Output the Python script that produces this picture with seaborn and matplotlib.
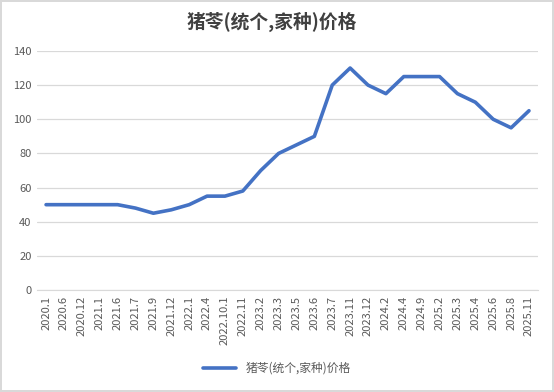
import pandas as pd
import seaborn as sns
from matplotlib import pyplot as plt

# data
periods = ["2020.1", "2020.6", "2020.12", "2021.1", "2021.6", "2021.7", "2021.9",
           "2021.12", "2022.1", "2022.4", "2022.10.1", "2022.11", "2023.2", "2023.3",
           "2023.5", "2023.6", "2023.7", "2023.11", "2023.12", "2024.2", "2024.4",
           "2024.9", "2025.2", "2025.3", "2025.4", "2025.6", "2025.8", "2025.11"]
prices = [50, 50, 50, 50, 50, 48, 45, 47, 50, 55, 55, 58, 70, 80,
          85, 90, 120, 130, 120, 115, 125, 125, 125, 115, 110, 100, 95, 105]
series_name = "猪苓(统个,家种)价格"

df = pd.DataFrame({"pos": range(len(periods)), "price": prices})

sns.set_style("white")
plt.rcParams['font.family'] = ['Noto Sans CJK SC', 'DejaVu Sans']

fig = plt.figure(figsize=(5.54, 3.92), dpi=100)
fig.patch.set_edgecolor("#d9d9d9")
fig.patch.set_linewidth(1.5)
ax = fig.add_axes([0.067, 0.26, 0.904, 0.61])

sns.lineplot(data=df, x="pos", y="price", ax=ax, color="#4472c4",
             linewidth=2.6, label=series_name)

ax.set_xlim(-0.5, len(periods) - 0.5)
ax.set_ylim(0, 140)
ax.set_yticks(range(0, 141, 20))
ax.set_xticks(range(len(periods)))
ax.set_xticklabels(periods, rotation=90)
ax.tick_params(axis="both", labelsize=8, labelcolor="#595959", length=0, pad=4)
ax.grid(axis="y", color="#d9d9d9", linewidth=0.9)
ax.set_axisbelow(True)
for side in ["top", "right", "left"]:
    ax.spines[side].set_visible(False)
ax.spines["bottom"].set_color("#d9d9d9")
ax.set_xlabel("")
ax.set_ylabel("")

fig.suptitle(series_name, x=0.49, y=0.97, fontsize=13.5, fontweight="bold", color="#404040")

ax.legend(loc="upper center", bbox_to_anchor=(0.479, -0.255), frameon=False,
          fontsize=8.5, labelcolor="#595959", handlelength=2.8)

fig.savefig("out.png")
